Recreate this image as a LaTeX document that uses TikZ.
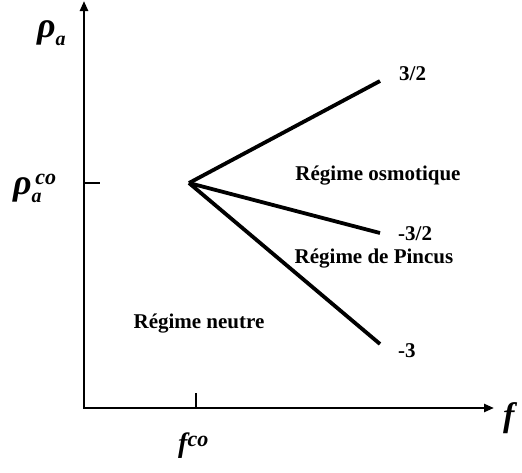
\documentclass[tikz,border=0pt]{standalone}
\usepackage{fontspec}
\setmainfont{Liberation Serif}
\usetikzlibrary{
    positioning,
    arrows.meta
}
\newcommand{\idxfont}{\fontsize{20}{24}\bfseries\itshape\selectfont}
\newcommand{\expfont}{\fontsize{22}{24}\bfseries\itshape\selectfont}

\begin{document}
\begin{tikzpicture}[
      x=1pt, y=-1pt,
      axis/.style={line width=2.4pt, line join=miter,
        {Triangle[length=10pt,width=8pt]}-{Triangle[length=10pt,width=8pt]}},
      branch/.style={line width=3.8pt},
      tick/.style={line width=2.4pt},
      regime/.style={font=\fontsize{21}{24}\bfseries\selectfont, inner sep=0pt, anchor=base},
      expo/.style={font=\fontsize{21}{24}\bfseries\selectfont, inner sep=0pt, anchor=west},
      sym/.style={font=\fontsize{36}{40}\bfseries\itshape\selectfont, inner sep=0pt, anchor=base west}
    ]
    \useasboundingbox (0,0) rectangle (522,472);

    % axes
    \coordinate (orig) at (84,408);
    \coordinate (ytop) at (84,1);
    \coordinate (xend) at (494,408);
    \draw[axis] (ytop) -- (orig) -- (xend);

    % ticks
    \coordinate (rhotick) at (84,183);
    \coordinate (rhotickend) at (100,183);
    \coordinate (ftick) at (196,408);
    \coordinate (ftickend) at (196,393);
    \draw[tick] (rhotick) -- (rhotickend);
    \draw[tick] (ftick) -- (ftickend);

    % branches from the critical point
    \coordinate (crit) at (189,183);
    \coordinate (upper) at (380,81);
    \coordinate (middle) at (380,233);
    \coordinate (lower) at (380,344);
    \draw[branch] (crit) -- (upper);
    \draw[branch] (crit) -- (middle);
    \draw[branch] (crit) -- (lower);

    \node[expo] (expupper) at (399,74) {3/2};
    \node[expo] (expmiddle) at (398,234) {-3/2};
    \node[expo] (explower) at (398,351) {-3};

    \node[regime] (osmo) at (378,180) {Régime osmotique};
    \node[regime] (pincus) at (374,263) {Régime de Pincus};
    \node[regime] (neutre) at (199,328) {Régime neutre};

    % axis labels
    \node[sym] (rhoa) at (37,37) {ρ\raisebox{-8pt}{\idxfont a}};
    \node[sym] (rhoaco) at (13,194) {ρ\rlap{\raisebox{-8pt}{\idxfont a}}\raisebox{10pt}{\expfont \,co}};
    \node[sym, font=\fontsize{28}{32}\bfseries\itshape\selectfont] (fco) at (178,452) {f\raisebox{6pt}{\expfont co}};
    \node[sym, font=\fontsize{34}{38}\bfseries\itshape\selectfont] (fname) at (503,426) {f};
  \end{tikzpicture}
\end{document}
